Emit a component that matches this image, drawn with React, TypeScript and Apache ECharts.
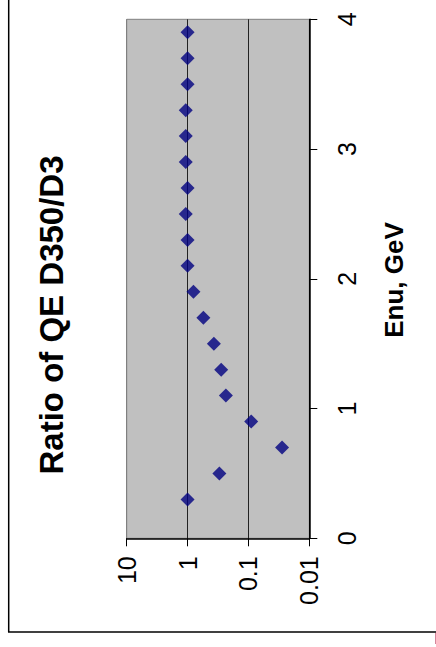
import React, { useEffect, useRef } from "react";
import * as echarts from "echarts";

const enu = [0.3, 0.5, 0.7, 0.9, 1.1, 1.3, 1.5, 1.7, 1.9, 2.1, 2.3, 2.5, 2.7, 2.9, 3.1, 3.3, 3.5, 3.7, 3.9];
const ratio = [1.0, 0.3, 0.028, 0.09, 0.235, 0.28, 0.37, 0.55, 0.8, 1.0, 1.0, 1.07, 1.0, 1.07, 1.07, 1.07, 1.0, 1.0, 1.0];
const titleText = "Ratio of QE D350/D3";
const enuAxisName = "Enu, GeV";

const FONT = "'Liberation Sans', Arial, sans-serif";

export default function App() {
  const ref = useRef<HTMLDivElement>(null);
  useEffect(() => {
    if (!ref.current) return;
    const chart = echarts.init(ref.current, undefined, { renderer: "svg" });
    chart.setOption({
      animation: false,
      backgroundColor: "#ffffff",
      grid: {
        left: 126.7,
        right: 126.7,
        top: 19.3,
        bottom: 108.7,
        show: true,
        backgroundColor: "#c0c0c0",
        borderColor: "#808080",
        borderWidth: 1,
      },
      xAxis: {
        type: "log",
        logBase: 10,
        min: 0.01,
        max: 10,
        inverse: true,
        position: "bottom",
        axisLine: { show: true, onZero: false, lineStyle: { color: "#000", width: 1.5 } },
        axisTick: { show: true, inside: false, length: 8, lineStyle: { color: "#000", width: 1 } },
        axisLabel: {
          rotate: 90,
          margin: 18,
          fontSize: 25,
          color: "#000",
          fontFamily: FONT,
          formatter: (v: number) => String(v),
        },
        splitLine: {
          show: true,
          lineStyle: { color: ["#000000", "#222222", "#222222", "#808080"], width: 1 },
        },
      },
      yAxis: {
        type: "value",
        min: 0,
        max: 4,
        interval: 1,
        position: "right",
        axisLine: { show: true, onZero: false, lineStyle: { color: "#000", width: 1.5 } },
        axisTick: { show: true, inside: false, length: 8, lineStyle: { color: "#000", width: 1 } },
        axisLabel: {
          rotate: 90,
          margin: 25,
          fontSize: 25,
          color: "#000",
          fontFamily: FONT,
        },
        splitLine: { show: false },
      },
      series: [
        {
          type: "scatter",
          symbol: "diamond",
          symbolSize: [14, 14],
          itemStyle: { color: "#000080" },
          data: enu.map((e, i) => [ratio[i], e]),
        },
      ],
      graphic: [
        {
          type: "text",
          x: 51,
          y: 315,
          rotation: Math.PI / 2,
          style: {
            text: titleText,
            font: `bold 33px ${FONT}`,
            fill: "#000",
            align: "center",
            verticalAlign: "middle",
          },
        },
        {
          type: "text",
          x: 394,
          y: 280,
          rotation: Math.PI / 2,
          style: {
            text: enuAxisName,
            font: `bold 26px ${FONT}`,
            fill: "#000",
            align: "center",
            verticalAlign: "middle",
          },
        },
        {
          type: "line",
          shape: { x1: 8.7, y1: 0, x2: 8.7, y2: 632 },
          style: { stroke: "#000", lineWidth: 1.5 },
        },
        {
          type: "line",
          shape: { x1: 8, y1: 632, x2: 436, y2: 632 },
          style: { stroke: "#000", lineWidth: 1.5 },
        },
        {
          type: "line",
          shape: { x1: 435.5, y1: 633, x2: 435.5, y2: 644 },
          style: { stroke: "#d4879c", lineWidth: 1 },
        },
      ],
    });
    return () => chart.dispose();
  }, []);
  return (
    <div
      ref={ref}
      style={{ position: "fixed", left: 0, top: 0, width: 436, height: 647 }}
    />
  );
}
